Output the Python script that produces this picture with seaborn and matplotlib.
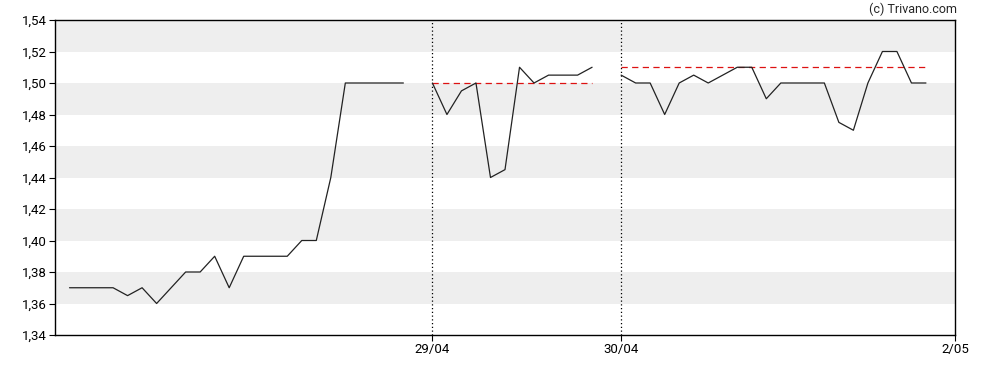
"""
Intraday price chart, three sessions
"""

import matplotlib
matplotlib.use("Agg")
import matplotlib.pyplot as plt
import pandas as pd
import seaborn as sns
from matplotlib.ticker import FuncFormatter

# prices per session, one value per time slot
day1 = [1.37, 1.37, 1.37, 1.37, 1.365, 1.37, 1.36, 1.37, 1.38, 1.38, 1.39, 1.37,
        1.39, 1.39, 1.39, 1.39, 1.40, 1.40, 1.44, 1.50, 1.50, 1.50, 1.50, 1.50]
day2 = [1.50, 1.48, 1.495, 1.50, 1.44, 1.445, 1.51, 1.50, 1.505, 1.505, 1.505, 1.51]
day3 = [1.505, 1.50, 1.50, 1.48, 1.50, 1.505, 1.50, 1.505, 1.51, 1.51, 1.49, 1.50,
        1.50, 1.50, 1.50, 1.475, 1.47, 1.50, 1.52, 1.52, 1.50, 1.50]
day_start = [0, 25, 38]          # slot where each session begins
ref_levels = [None, 1.50, 1.51]  # previous close reference per session
tick_slots = [25, 38, 61]
tick_labels = ["29/04", "30/04", "2/05"]

sns.set_style("white")
plt.rcParams["font.family"] = ["Roboto", "DejaVu Sans"]

fig = plt.figure(figsize=(9.88, 3.70), dpi=100)
ax = fig.add_axes([55 / 988, 35 / 370, 900 / 988, 315 / 370])

# alternating grey bands
for lo in [1.36, 1.40, 1.44, 1.48, 1.52]:
    ax.axhspan(lo, lo + 0.02, color="#eeeeee", lw=0, zorder=0)

for start, vals, ref in zip(day_start, [day1, day2, day3], ref_levels):
    df = pd.DataFrame({"slot": range(start, start + len(vals)), "price": vals})
    sns.lineplot(data=df, x="slot", y="price", color="#222222", lw=0.9, ax=ax, zorder=3)
    if ref is not None:
        ax.hlines(ref, df.slot.iloc[0], df.slot.iloc[-1], colors="#dd1111",
                  linestyles=(0, (5, 3.5)), lw=0.9, zorder=2)

for s in tick_slots[:2]:
    ax.axvline(s, color="black", ls=(0, (1, 2)), lw=0.9, zorder=1)

ax.set_xlim(-1, 61)
ax.set_ylim(1.34, 1.54)
ax.set_yticks([1.34 + 0.02 * i for i in range(11)])
ax.yaxis.set_major_formatter(FuncFormatter(lambda v, p: f"{v:.2f}".replace(".", ",")))
ax.set_xticks(tick_slots)
ax.set_xticklabels(tick_labels)
ax.set_xlabel("")
ax.set_ylabel("")
ax.tick_params(axis="both", direction="out", length=4, width=0.8, labelsize=9.5,
               colors="black", pad=2, left=True, bottom=True)
for sp in ax.spines.values():
    sp.set_color("black")
    sp.set_linewidth(1)

fig.text(957 / 988, 1 - 9 / 370, "(c) Trivano.com", ha="right", va="center", fontsize=9)

fig.savefig("out.png", dpi=100)
